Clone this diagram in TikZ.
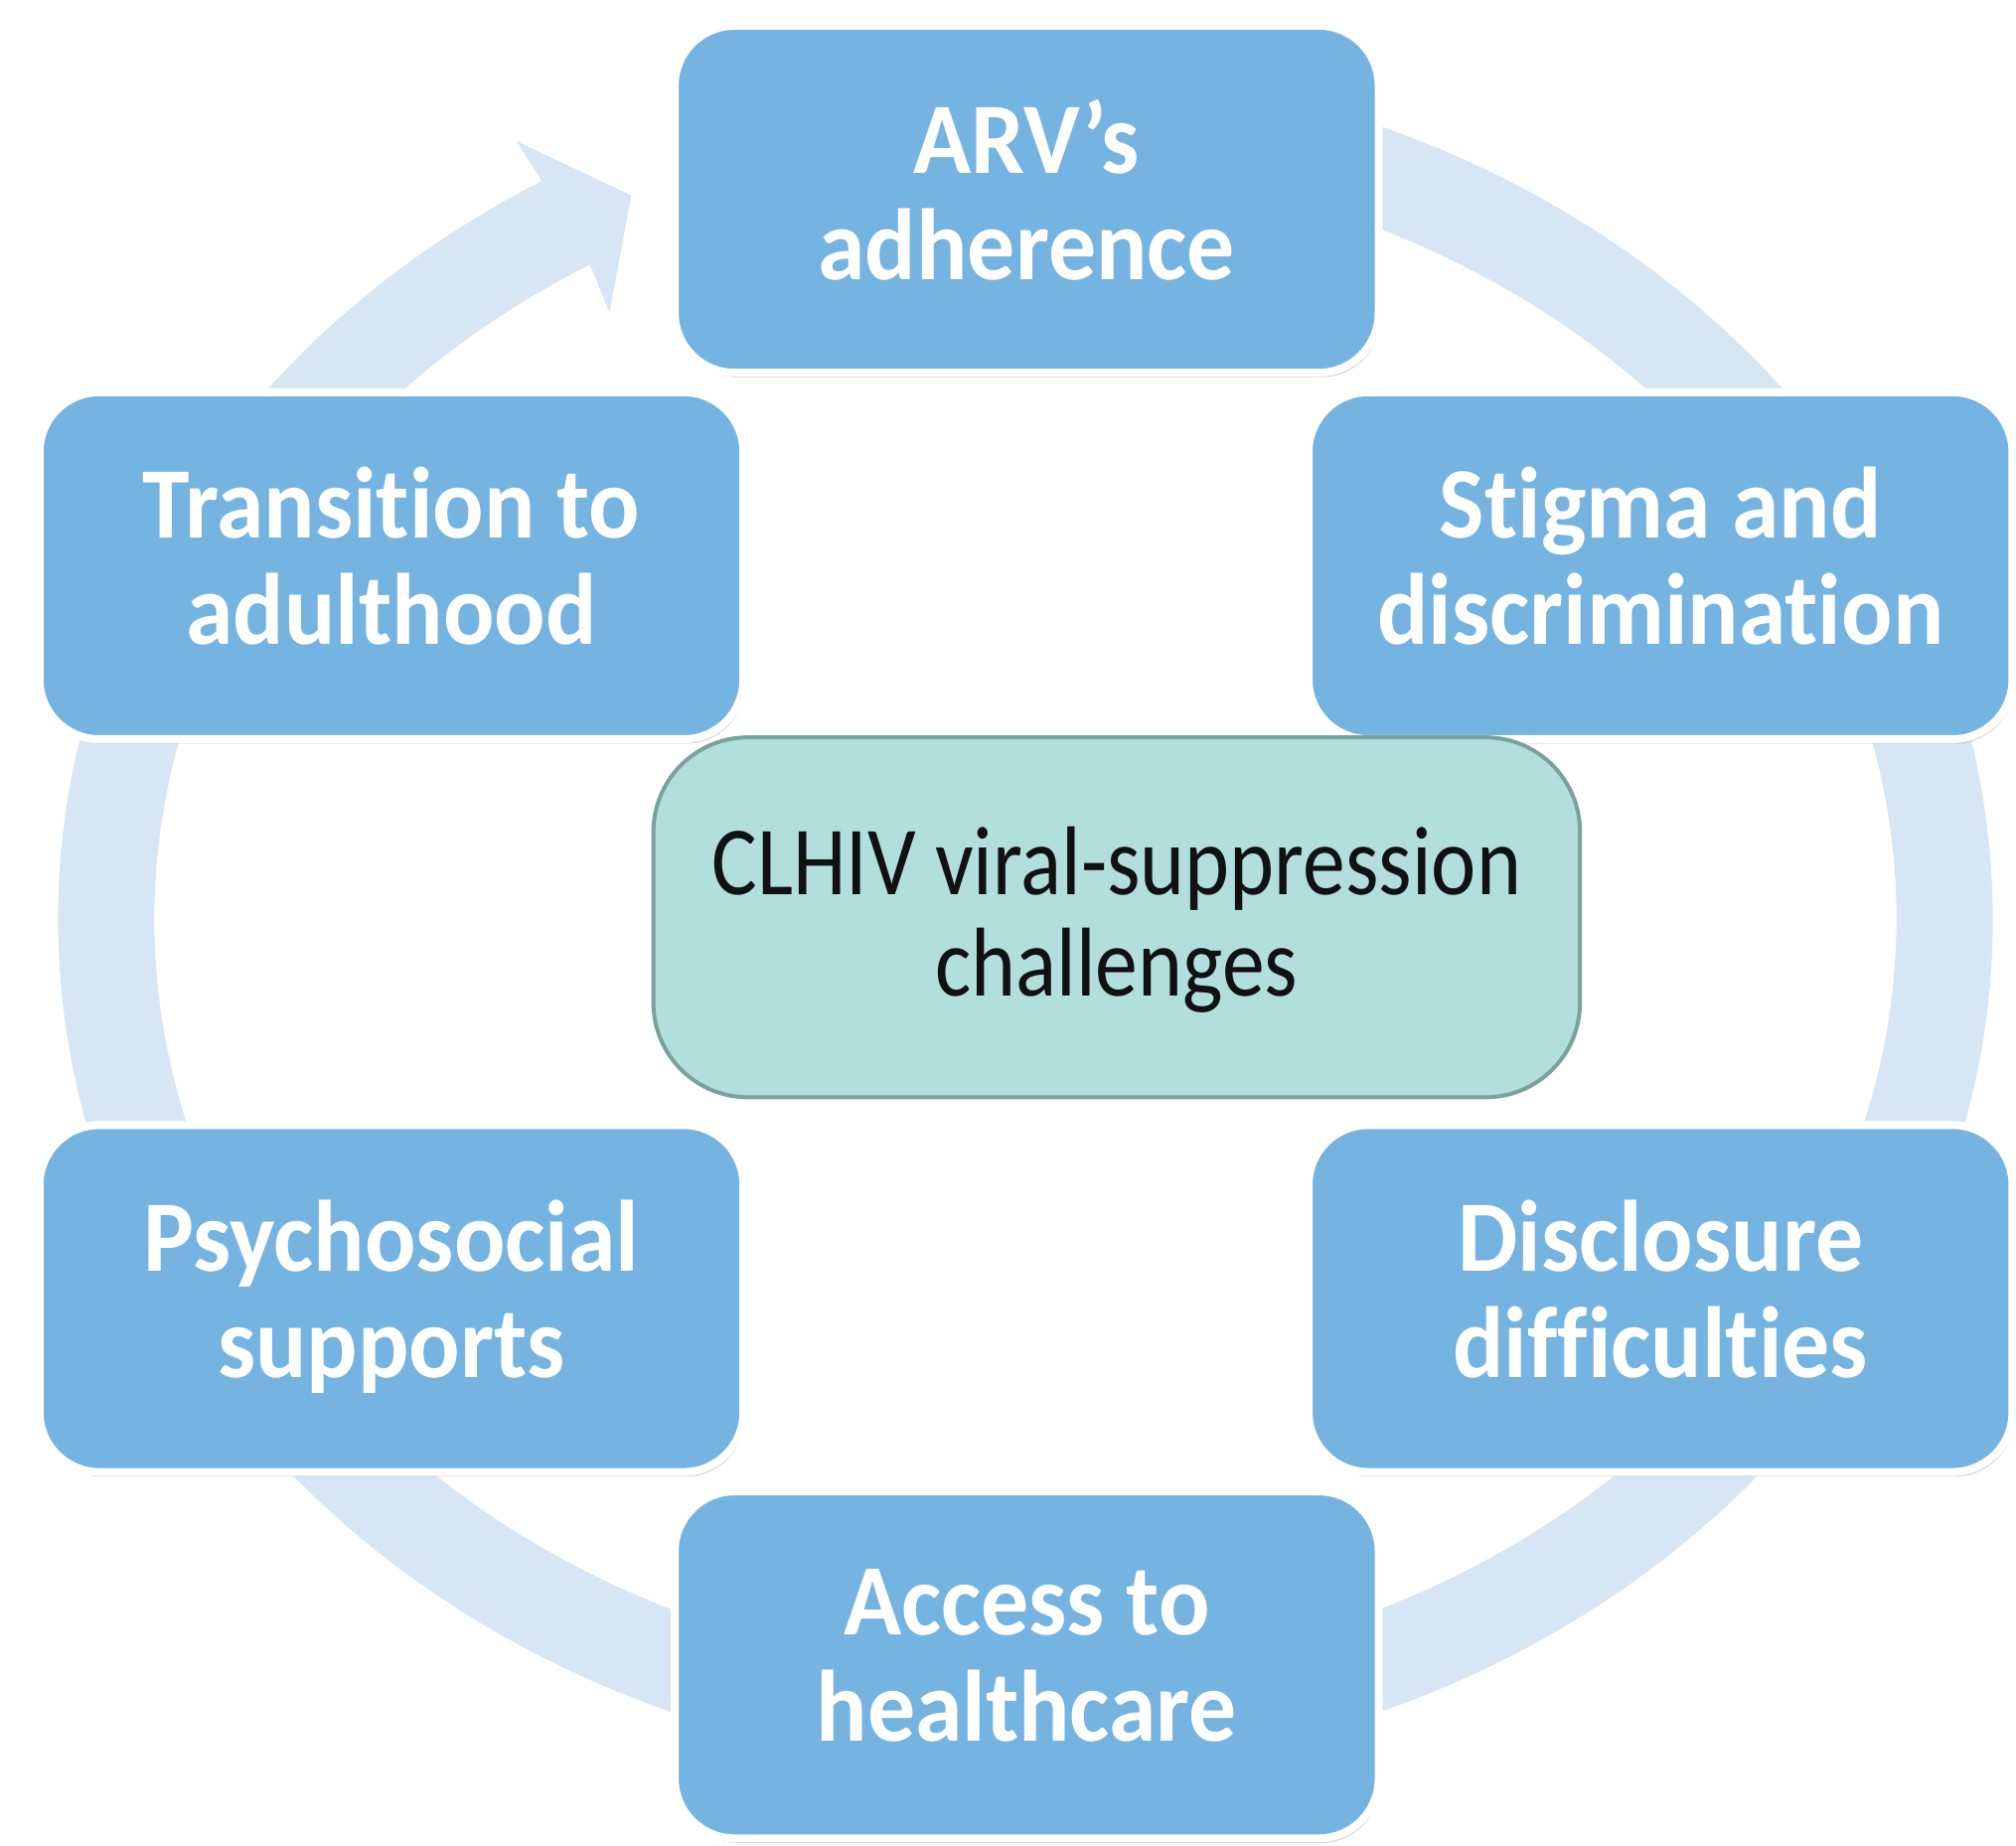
\documentclass[tikz,border=0pt]{standalone}
\usepackage{fontspec}
\setmainfont{Carlito}[Ligatures=NoCommon]
\newfontfamily\boxfont{Carlito}[FakeStretch=0.94, Ligatures=NoCommon]
\newfontfamily\hubfont{Carlito}[FakeStretch=0.87, Ligatures=NoCommon]
\usetikzlibrary{shadows,calc}
\definecolor{boxblue}{RGB}{117,179,225}
\definecolor{ringblue}{RGB}{214,230,244}
\definecolor{centerfill}{RGB}{178,222,219}
\definecolor{centerline}{RGB}{122,162,157}
\definecolor{centertext}{RGB}{17,17,17}
\tikzset{
  stepbox/.style={rounded corners=0.6cm, fill=boxblue, draw=white, line width=0.08cm,
    minimum width=7.08cm, minimum height=3.49cm, align=center, text=white,
    text depth=0.2cm,
    font=\boxfont\bfseries\fontsize{29}{30.5}\selectfont,
    drop shadow={shadow xshift=0.02cm, shadow yshift=-0.045cm, opacity=0.35, fill=black!60}},
  hubbox/.style={rounded corners=0.95cm, fill=centerfill, draw=centerline, line width=0.04cm,
    minimum width=9.32cm, minimum height=3.62cm, align=center, text=centertext,
    text depth=0.12cm,
    font=\hubfont\fontsize{28}{28.9}\selectfont},
  ringfill/.style={fill=ringblue}
}
\begin{document}
\begin{tikzpicture}[x=0.01cm,y=0.01cm]
\useasboundingbox (0,0) rectangle (2029,1858);
\coordinate (c) at (1032,933);
\coordinate (barbout) at (520.2,1715.7);
\coordinate (tip) at (635.4,1661.3);
\coordinate (barbin) at (613.4,1543.6);
% circular arrow
\fill[ringfill] ($(c)+(95:9.73cm and 8.57cm)$)
  arc[start angle=95, end angle=-240, x radius=9.73cm, y radius=8.57cm]
  -- (barbout) -- (tip) -- (barbin)
  -- ($(c)+(-240:8.76cm and 7.60cm)$)
  arc[start angle=-240, end angle=95, x radius=8.76cm, y radius=7.60cm]
  -- cycle;
% outer boxes
\node[stepbox] (arv) at (1033.3,1657.4) {ARV’s\\adherence};
\node[stepbox] (stigma) at (1671.2,1288.6) {Stigma and\\discrimination};
\node[stepbox] (trans) at (394,1288.6) {Transition to\\adulthood};
\node[stepbox] (psy) at (394,551) {Psychosocial\\supports};
\node[stepbox] (disc) at (1671.2,551) {Disclosure\\difficulties};
\node[stepbox] (access) at (1033.3,182.3) {Access to\\healthcare};
% centre
\node[hubbox] (hub) at (1123.9,934.7) {CLHIV viral-suppression\\challenges};
\end{tikzpicture}
\end{document}
